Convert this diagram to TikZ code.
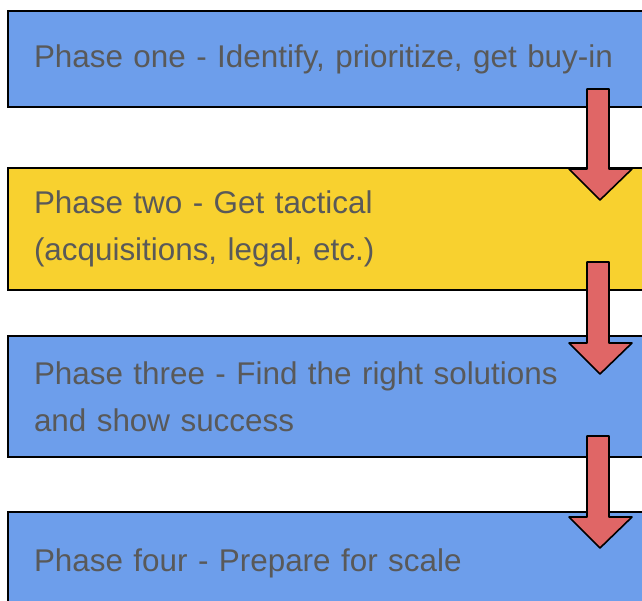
\documentclass[tikz,border=0pt]{standalone}
\usepackage{fontspec}
\setmainfont{Liberation Sans}
\definecolor{phaseblue}{HTML}{6D9EEB}
\definecolor{phaseyellow}{HTML}{F8D12F}
\definecolor{arrowred}{HTML}{E06666}
\definecolor{textgray}{HTML}{595959}
\tikzset{
  phasebox/.style={draw=black, line width=2pt, rectangle, anchor=north west,
    minimum width=653, text width=601, inner xsep=26pt, align=left,
    text=textgray, font=\fontsize{31.4}{47}\selectfont},
  downarrow/.style={draw=black, fill=arrowred, line width=1.6pt, line join=round}
}
\begin{document}
\begin{tikzpicture}[x=1pt,y=-1pt]
\useasboundingbox (0,0) rectangle (642,601);
\clip (0,0) rectangle (642,601);
\node[phasebox, fill=phaseblue, minimum height=96] (one) at (7,10) {Phase one - Identify, prioritize, get buy-in};
\node[phasebox, fill=phaseyellow, minimum height=122] (two) at (7,167) {Phase two - Get tactical\\(acquisitions, legal, etc.)};
\node[phasebox, fill=phaseblue, minimum height=121] (three) at (7,335) {Phase three - Find the right solutions\\and show success};
\node[phasebox, fill=phaseblue, minimum height=102] (four) at (7,511) {Phase four - Prepare for scale};
% arrows between phases
\foreach \top/\head in {89/169, 262/343, 436/517}
  \draw[downarrow] (587,\top) -- (609,\top) -- (609,\head) -- (632,\head)
    -- (600,{\head+31}) -- (569,\head) -- (587,\head) -- cycle;
\end{tikzpicture}
\end{document}
